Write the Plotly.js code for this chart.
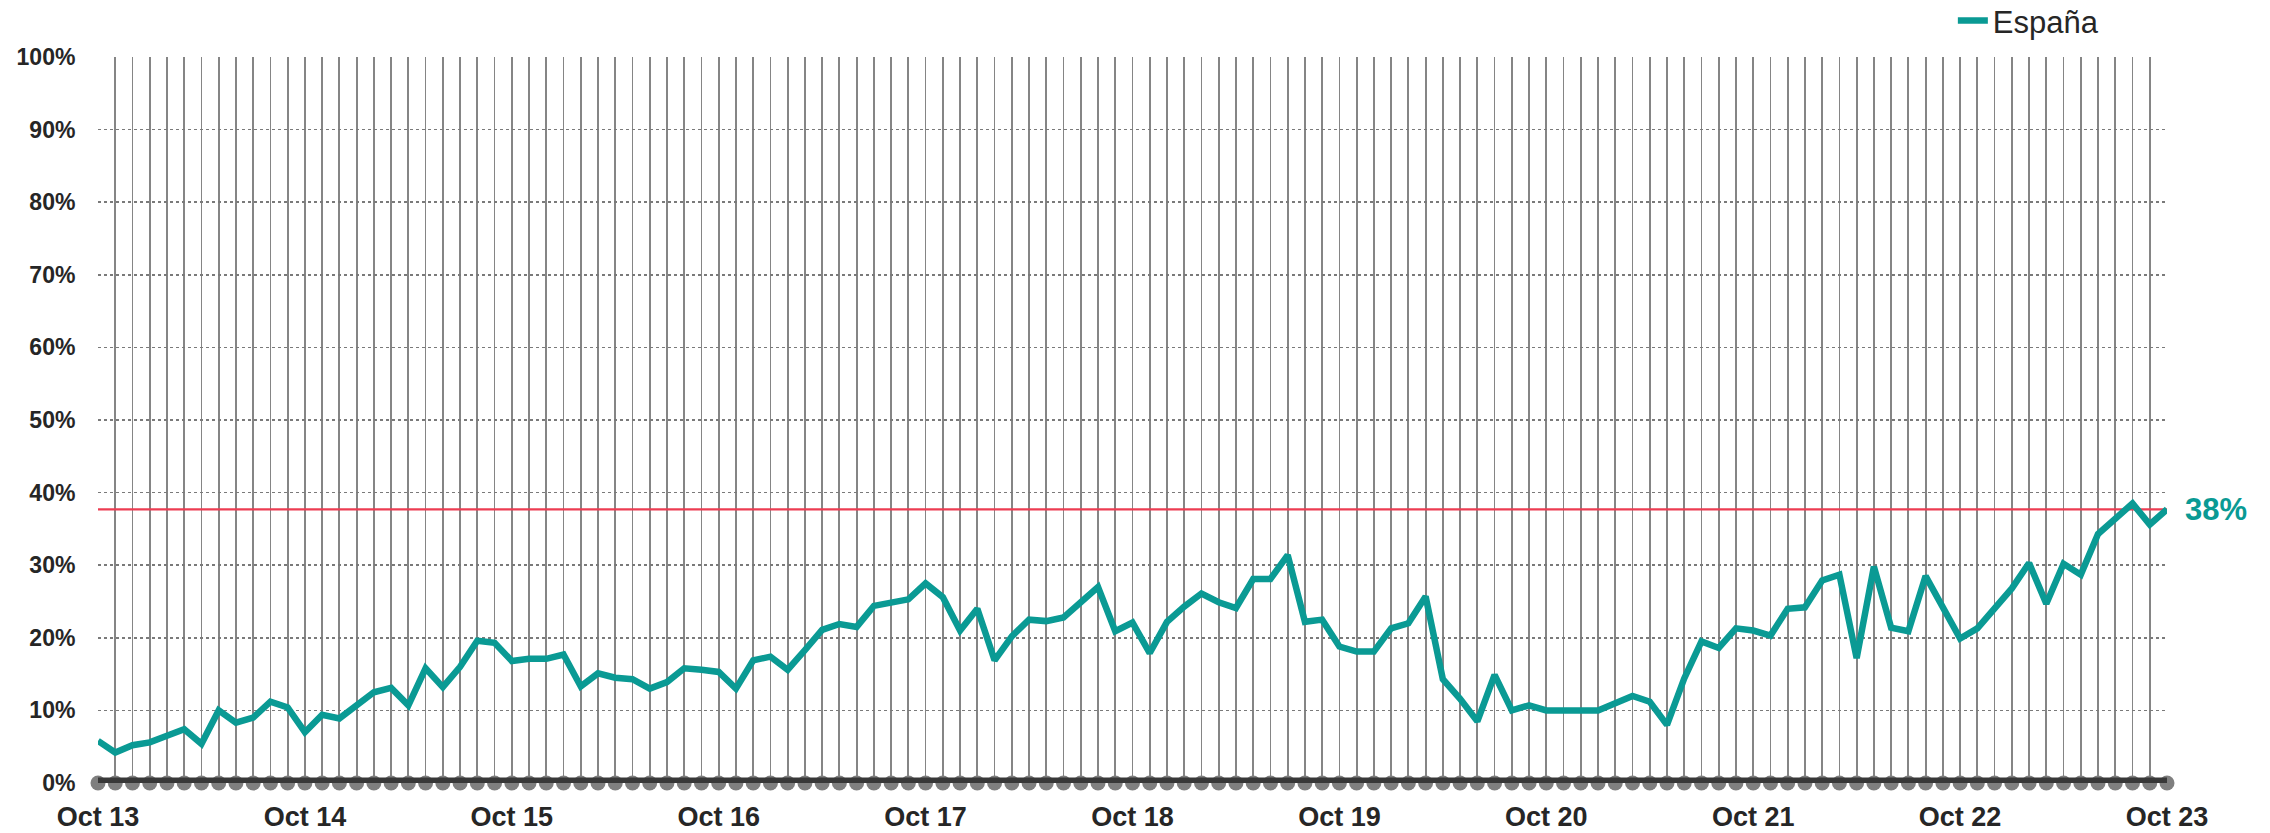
<!DOCTYPE html>
<html>
<head>
<meta charset="utf-8">
<script src="https://cdn.plot.ly/plotly-3.0.1.min.js"></script>
<style>html,body{margin:0;padding:0;background:#fff;}#chart{width:2270px;height:833px;}</style>
</head>
<body>
<div id="chart"></div>
<script>
// Monthly series, Oct 2013 .. Oct 2023 (121 months), percent
const seriesName = "España";
const espana = [
  5.8, 4.2, 5.2, 5.6, 6.5, 7.4, 5.4, 10.0, 8.3, 9.0, 11.2, 10.4,
  7.0, 9.4, 8.9, 10.7, 12.5, 13.1, 10.7, 15.8, 13.2, 16.0, 19.6, 19.3,
  16.8, 17.1, 17.1, 17.7, 13.3, 15.1, 14.5, 14.3, 13.0, 13.9, 15.8, 15.6,
  15.3, 13.0, 16.9, 17.4, 15.6, 18.3, 21.1, 21.9, 21.5, 24.4, 24.9, 25.3,
  27.5, 25.6, 21.0, 24.0, 16.9, 20.2, 22.5, 22.3, 22.8, 25.0, 27.0, 20.9,
  22.1, 17.9, 22.2, 24.3, 26.1, 24.9, 24.1, 28.1, 28.1, 31.4, 22.2, 22.5,
  18.8, 18.1, 18.1, 21.3, 22.0, 25.7, 14.3, 11.6, 8.5, 14.9, 10.0, 10.7,
  10.0, 10.0, 10.0, 10.0, 11.0, 12.0, 11.2, 8.0, 14.4, 19.5, 18.6, 21.3,
  21.0, 20.3, 24.0, 24.2, 27.9, 28.7, 17.2, 29.8, 21.4, 20.9, 28.5, 24.3,
  19.9, 21.3, 23.9, 26.8, 30.3, 24.7, 30.2, 28.7, 34.3, 36.3, 38.5, 35.6,
  37.7
];
const tickLabels = ["Oct 13","Oct 14","Oct 15","Oct 16","Oct 17","Oct 18","Oct 19","Oct 20","Oct 21","Oct 22","Oct 23"];
const tickPositions = [0, 12, 24, 36, 48, 60, 72, 84, 96, 108, 120];
const yTicks = [0,10,20,30,40,50,60,70,80,90,100];
const yTickLabels = ["0%","10%","20%","30%","40%","50%","60%","70%","80%","90%","100%"];

const monthIndex = espana.map((_, i) => i);
const zeros = espana.map(() => 0);
const lastIdx = espana.length - 1;
const lastVal = espana[lastIdx];

const FONT = "Liberation Sans, Arial, sans-serif";
const TEAL = "#0a9a94";

const traces = [
  { x: monthIndex, y: zeros, mode: "markers", type: "scatter", showlegend: false, hoverinfo: "skip",
    marker: { color: "#7f7f7f", size: 15, line: { width: 0 } }, cliponaxis: false },
  { x: monthIndex, y: zeros, mode: "lines", type: "scatter", showlegend: false, hoverinfo: "skip",
    line: { color: "#383838", width: 11 }, cliponaxis: false },
  { x: [0, lastIdx], y: [lastVal, lastVal], mode: "lines", type: "scatter", showlegend: false, hoverinfo: "skip",
    line: { color: "#ec3c52", width: 2.2 } },
  { x: monthIndex, y: espana, mode: "lines", type: "scatter", name: seriesName,
    line: { color: TEAL, width: 6.5 }, cliponaxis: false }
];

const layout = {
  width: 2270, height: 833,
  margin: { l: 98, r: 103, t: 57, b: 50, autoexpand: false },
  paper_bgcolor: "#fff", plot_bgcolor: "#fff",
  font: { family: FONT, color: "#262626" },
  showlegend: true,
  legend: { x: 0.8965, xanchor: "left", xref: "paper", y: 0.975, yanchor: "middle", yref: "container",
    orientation: "h",
    font: { family: FONT, size: 31, color: "#262626" }, bgcolor: "rgba(0,0,0,0)" },
  xaxis: {
    range: [0, lastIdx], tickmode: "array", tickvals: tickPositions, ticktext: tickLabels,
    tickfont: { family: FONT, size: 27, weight: "bold", color: "#262626" },
    ticks: "outside", ticklen: 10, tickcolor: "rgba(0,0,0,0)",
    showgrid: true, gridcolor: "#858585", gridwidth: 1.8,
    minor: { tickmode: "linear", tick0: 0, dtick: 1, showgrid: true, gridcolor: "#858585", gridwidth: 1.8 },
    showline: false, zeroline: false, fixedrange: true
  },
  yaxis: {
    range: [0, 100], tickmode: "array", tickvals: yTicks, ticktext: yTickLabels,
    tickfont: { family: FONT, size: 23, weight: "bold", color: "#262626" },
    ticks: "outside", ticklen: 17, tickcolor: "rgba(0,0,0,0)",
    showgrid: true, gridcolor: "#7a7a7a", gridwidth: 1.5, griddash: "dot",
    showline: false, zeroline: false, fixedrange: true
  },
  annotations: [
    { x: lastIdx, y: lastVal, xref: "x", yref: "y", text: "<b>" + Math.round(lastVal) + "%</b>",
      showarrow: false, xanchor: "left", yanchor: "middle", xshift: 16,
      font: { family: FONT, size: 31, color: TEAL } }
  ]
};

Plotly.newPlot("chart", traces, layout, { displayModeBar: false, staticPlot: true });
</script>
</body>
</html>
